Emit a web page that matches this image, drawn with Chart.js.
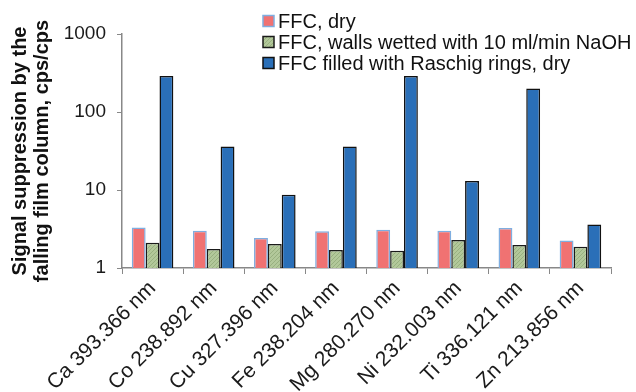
<!DOCTYPE html>
<html>
<head>
<meta charset="utf-8">
<script src="https://cdn.jsdelivr.net/npm/chart.js@4/dist/chart.umd.min.js"></script>
<style>
  html, body { margin: 0; padding: 0; background: #fff; }
  #wrap { width: 636px; height: 392px; position: relative; }
</style>
</head>
<body>
<div id="wrap"><canvas id="c" width="636" height="392"></canvas></div>
<script>
// Emission lines measured
const categories = [
  'Ca 393.366 nm', 'Co 238.892 nm', 'Cu 327.396 nm', 'Fe 238.204 nm',
  'Mg 280.270 nm', 'Ni 232.003 nm', 'Ti 336.121 nm', 'Zn 213.856 nm'
];
const seriesNames = [
  'FFC, dry',
  'FFC, walls wetted with 10 ml/min NaOH',
  'FFC filled with Raschig rings, dry'
];
// Signal suppression ratios (cps/cps)
const ffcDry     = [3.3, 3.0, 2.43, 2.95, 3.1, 3.0, 3.25, 2.26];
const ffcWetted  = [2.1, 1.75, 2.03, 1.7, 1.67, 2.29, 1.97, 1.87];
const ffcRaschig = [290, 36, 8.7, 36, 290, 13, 200, 3.6];
const yTickValues = [1, 10, 100, 1000];

// light diagonal hatching for the wetted-walls series
function hatchPattern() {
  const p = document.createElement('canvas');
  p.width = 4; p.height = 4;
  const g = p.getContext('2d');
  g.fillStyle = '#b2c89a';
  g.fillRect(0, 0, 4, 4);
  g.strokeStyle = '#98b080';
  g.lineWidth = 1;
  g.beginPath();
  g.moveTo(0, 4); g.lineTo(4, 0);
  g.moveTo(-1, 1); g.lineTo(1, -1);
  g.moveTo(3, 5); g.lineTo(5, 3);
  g.stroke();
  return document.getElementById('c').getContext('2d').createPattern(p, 'repeat');
}
const hatch = hatchPattern();

const FONT = "'Liberation Sans', Arial, sans-serif";

// legend drawn inside the top-right of the figure
const cornerLegend = {
  id: 'cornerLegend',
  afterDraw(chart) {
    const ctx = chart.ctx;
    const x0 = 263, y0 = 21, step = 21, box = 11;
    ctx.save();
    ctx.font = '20px ' + FONT;
    ctx.textBaseline = 'middle';
    chart.data.datasets.forEach((ds, i) => {
      const y = y0 + i * step;
      ctx.fillStyle = ds.backgroundColor;
      ctx.fillRect(x0, y - box / 2, box, box);
      ctx.lineWidth = 1.5;
      ctx.strokeStyle = ds.borderColor;
      ctx.strokeRect(x0, y - box / 2, box, box);
      ctx.fillStyle = '#111';
      ctx.fillText(ds.label, x0 + 15, y + 1);
    });
    ctx.restore();
  }
};

new Chart(document.getElementById('c'), {
  type: 'bar',
  data: {
    labels: categories,
    datasets: [
      { label: seriesNames[0], data: ffcDry, backgroundColor: '#f07272', borderColor: '#7faee0', borderWidth: 1.5 },
      { label: seriesNames[1], data: ffcWetted, backgroundColor: hatch, borderColor: '#1a1a1a', borderWidth: 1.5 },
      { label: seriesNames[2], data: ffcRaschig, backgroundColor: '#2a6fb8', borderColor: '#111', borderWidth: 1.5 }
    ]
  },
  options: {
    responsive: false,
    animation: false,
    devicePixelRatio: 1,
    layout: { padding: { top: 34, right: 25, left: 0, bottom: 0 } },
    datasets: { bar: { barPercentage: 1, categoryPercentage: 0.68 } },
    plugins: { legend: { display: false }, tooltip: { enabled: false } },
    scales: {
      x: {
        grid: { display: true, drawOnChartArea: false, drawTicks: true, tickLength: 6, color: '#888', offset: true },
        border: { display: true, color: '#888', width: 1.5 },
        ticks: { color: '#1a1a1a', font: { family: FONT, size: 21 }, minRotation: 45, maxRotation: 45, padding: 2 },
        afterFit(scale) { scale.height = 124; }
      },
      y: {
        type: 'logarithmic',
        min: 1, max: 1000,
        afterBuildTicks(scale) { scale.ticks = yTickValues.map(v => ({ value: v })); },
        ticks: {
          color: '#1a1a1a', font: { family: FONT, size: 19 }, padding: 11,
          callback: v => String(v)
        },
        grid: { display: true, drawOnChartArea: false, drawTicks: true, tickLength: 5, color: '#888' },
        border: { display: true, color: '#888', width: 1.5 },
        title: {
          display: true,
          text: ['Signal suppression by the', 'falling film column, cps/cps'],
          color: '#111',
          font: { family: FONT, size: 20, weight: 'bold', lineHeight: 1.1 },
          padding: { top: 9, bottom: 2 }
        },
        afterFit(scale) { scale.width = 122; }
      }
    }
  },
  plugins: [cornerLegend]
});
</script>
</body>
</html>
